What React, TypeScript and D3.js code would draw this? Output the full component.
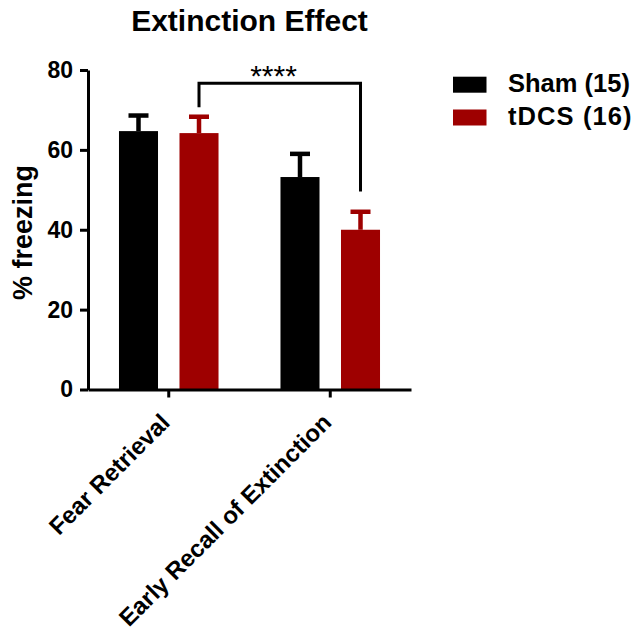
import { useEffect, useRef } from 'react';
import * as d3 from 'd3';

const categories = ['Fear Retrieval', 'Early Recall of Extinction'];
const series = ['Sham (15)', 'tDCS (16)'];
const colors = ['#000000', '#9e0000'];
const means = [
  [64.7, 64.2],
  [53.2, 40.0],
];
const sems = [
  [3.9, 4.1],
  [5.8, 4.5],
];
const yTicks = [0, 20, 40, 60, 80];
// significance bracket: tDCS Fear Retrieval vs tDCS Early Recall
const bracket = { from: 0, to: 1, top: 76.7, leftEnd: 70.7, rightEnd: 49.6, label: '****' };

const font = '"Liberation Sans", Arial, sans-serif';

export default function App() {
  const gx = useRef<SVGGElement>(null),
    gy = useRef<SVGGElement>(null);

  const width = 634,
    height = 630,
    marginLeft = 88,
    plotRight = 411,
    y0 = 389.5,
    yTop = 70;

  const x = d3.scaleBand().domain(categories).range([marginLeft, plotRight]).padding(0);
  const xs = d3
    .scaleBand()
    .domain(series)
    .range([0, x.bandwidth()])
    .paddingInner(0.355)
    .paddingOuter(0.512);
  const y = d3.scaleLinear().domain([0, 80]).range([y0, yTop]);

  const barCenter = (ci: number, si: number) =>
    (x(categories[ci]) as number) + (xs(series[si]) as number) + xs.bandwidth() / 2;

  useEffect(() => {
    const ax = d3.select(gx.current!);
    ax.call(d3.axisBottom(x).tickSize(8).tickSizeOuter(0).tickFormat(() => ''));
    ax.selectAll('path, line').attr('stroke', '#000').attr('stroke-width', 3);

    const ay = d3.select(gy.current!);
    ay.call(d3.axisLeft(y).tickValues(yTicks).tickSize(8).tickSizeOuter(0).tickPadding(7));
    ay.selectAll('path, line').attr('stroke', '#000').attr('stroke-width', 3);
    ay.selectAll('text')
      .attr('font-family', font)
      .attr('font-weight', 'bold')
      .attr('font-size', 23)
      .attr('fill', '#000');
    ay.attr('font-size', null).attr('font-family', null);
  }, []);

  const bx1 = barCenter(bracket.from, 1),
    bx2 = barCenter(bracket.to, 1);

  return (
    <svg
      width={width}
      height={height}
      style={{ position: 'absolute', left: 0, top: 0, background: '#fff' }}
      fontFamily={font}
    >
      <text x={249.5} y={31} textAnchor="middle" fontWeight="bold" fontSize={30}>
        Extinction Effect
      </text>

      {categories.map((c, ci) =>
        series.map((s, si) => {
          const cx = barCenter(ci, si);
          const top = y(means[ci][si]);
          const errTop = y(means[ci][si] + sems[ci][si]);
          return (
            <g key={c + s}>
              <line x1={cx} x2={cx} y1={top} y2={errTop} stroke={colors[si]} strokeWidth={4.5} />
              <line x1={cx - 10} x2={cx + 10} y1={errTop} y2={errTop} stroke={colors[si]} strokeWidth={4.5} />
              <rect
                x={cx - xs.bandwidth() / 2}
                y={top}
                width={xs.bandwidth()}
                height={y0 - top}
                fill={colors[si]}
              />
            </g>
          );
        })
      )}

      <g ref={gx} transform={`translate(0,${y0})`} />
      <g ref={gy} transform={`translate(${marginLeft},0)`} />

      {categories.map((c) => (
        <text
          key={c}
          transform={`translate(${(x(c) as number) + x.bandwidth() / 2 + 2.5},424) rotate(-45)`}
          textAnchor="end"
          fontWeight="bold"
          fontSize={24}
        >
          {c}
        </text>
      ))}

      <text
        transform={`translate(32,232.5) rotate(-90)`}
        textAnchor="middle"
        fontWeight="bold"
        fontSize={27}
      >
        % freezing
      </text>

      <path
        d={`M${bx1},${y(bracket.leftEnd)}V${y(bracket.top)}H${bx2}V${y(bracket.rightEnd)}`}
        fill="none"
        stroke="#000"
        strokeWidth={3}
      />
      <text x={273.5} y={86} textAnchor="middle" fontSize={30}>
        {bracket.label}
      </text>

      {series.map((s, si) => (
        <g key={s} transform={`translate(453,${76.7 + si * 32.8})`}>
          <rect width={33.5} height={16} fill={colors[si]} />
          <text x={55} y={15} fontWeight="bold" fontSize={25.5} letterSpacing={si === 1 ? 1.1 : 0}>
            {s}
          </text>
        </g>
      ))}
    </svg>
  );
}
